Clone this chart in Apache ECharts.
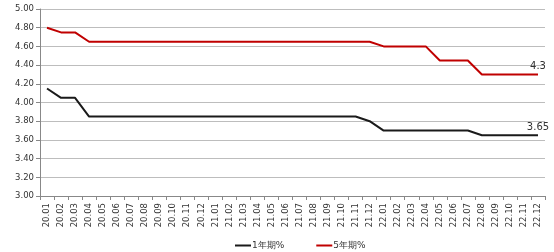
<!DOCTYPE html>
<html><head><meta charset="utf-8">
<script src="https://cdn.jsdelivr.net/npm/echarts@6/dist/echarts.min.js"></script>
<style>html,body{margin:0;padding:0;background:#fff}#c{width:554px;height:252px}</style>
</head><body><div id="c"></div>
<script>
const categories = ['20.01','20.02','20.03','20.04','20.05','20.06','20.07','20.08','20.09','20.10','20.11','20.12',
'21.01','21.02','21.03','21.04','21.05','21.06','21.07','21.08','21.09','21.10','21.11','21.12',
'22.01','22.02','22.03','22.04','22.05','22.06','22.07','22.08','22.09','22.10','22.11','22.12'];
const lpr1y = [4.15,4.05,4.05,3.85,3.85,3.85,3.85,3.85,3.85,3.85,3.85,3.85,
3.85,3.85,3.85,3.85,3.85,3.85,3.85,3.85,3.85,3.85,3.85,3.80,
3.70,3.70,3.70,3.70,3.70,3.70,3.70,3.65,3.65,3.65,3.65,3.65];
const lpr5y = [4.80,4.75,4.75,4.65,4.65,4.65,4.65,4.65,4.65,4.65,4.65,4.65,
4.65,4.65,4.65,4.65,4.65,4.65,4.65,4.65,4.65,4.65,4.65,4.65,
4.60,4.60,4.60,4.60,4.45,4.45,4.45,4.30,4.30,4.30,4.30,4.30];
const seriesNames = ['1年期%','5年期%'];
const endLabels = ['3.65','4.3'];

const font = 'DejaVu Sans';
function mk(name, data, color, lbl){
  return {
    name, type:'line', data, symbol:'circle', symbolSize:0.01, showSymbol:true, showAllSymbol:true,
    animation:false,
    lineStyle:{color, width:2}, itemStyle:{color},
    label:{show:true, position:'top', distance:3, fontFamily:font, fontSize:10, color:'#333',
      formatter: p => p.dataIndex === data.length-1 ? lbl : ''}
  };
}
const chart = echarts.init(document.getElementById('c'));
chart.setOption({
  animation:false,
  grid:{left:40, right:9, top:9, bottom:56},
  legend:{top:236, left:230, itemWidth:16, itemHeight:2, itemGap:32, icon:'rect',
    textStyle:{fontFamily:font, fontSize:9, color:'#333', padding:[0,0,0,-4]},
    data:seriesNames},
  xAxis:{type:'category', data:categories, boundaryGap:true,
    axisLine:{lineStyle:{color:'#888'}},
    axisTick:{show:true, length:4, lineStyle:{color:'#888'}},
    axisLabel:{rotate:90, interval:0, fontFamily:font, fontSize:8.5, color:'#333', margin:7}},
  yAxis:{type:'value', min:3, max:5, interval:0.2,
    axisLine:{show:true, lineStyle:{color:'#888'}},
    axisTick:{show:true, length:4, lineStyle:{color:'#888'}},
    splitLine:{lineStyle:{color:'#bdbdbd'}},
    axisLabel:{fontFamily:font, fontSize:8.5, color:'#333', margin:6, formatter:v=>v.toFixed(2)}},
  series:[mk(seriesNames[0], lpr1y, '#1a1a1a', endLabels[0]), mk(seriesNames[1], lpr5y, '#c00000', endLabels[1])]
});
</script></body></html>
